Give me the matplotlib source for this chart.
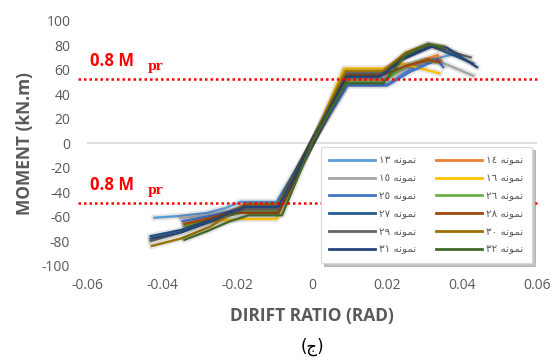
import matplotlib

matplotlib.use("Agg")
import matplotlib.pyplot as plt
import matplotlib.patheffects as pe
from matplotlib.lines import Line2D

TEXT_GREY = "#595959"
LIMIT_RED = "#FF0000"

# specimen labels (logical order, Arabic script)
LABELS = [
    "نمونه ١٣", "نمونه ١٤", "نمونه ١٥", "نمونه ١٦",
    "نمونه ٢٥", "نمونه ٢٦", "نمونه ٢٧", "نمونه ٢٨",
    "نمونه ٢٩", "نمونه ٣٠", "نمونه ٣١", "نمونه ٣٢",
]
COLORS = [
    "#5B9BD5", "#ED7D31", "#A5A5A5", "#FFC000",
    "#4472C4", "#70AD47", "#255E91", "#9E480E",
    "#636363", "#997300", "#264478", "#43682B",
]

# drift ratio (rad) / moment (kN.m) backbone points per specimen
drift_13 = [-0.042, -0.035, -0.028, -0.023, -0.019, -0.0095, 0, 0.0095, 0.020, 0.026, 0.032, 0.038]
moment_13 = [-61, -59.5, -57, -53, -48, -48, 0, 48, 48, 60, 68, 73]
drift_14 = [-0.034, -0.028, -0.022, -0.017, -0.009, 0, 0.0095, 0.019, 0.025, 0.0335, 0.0346]
moment_14 = [-65.6, -62, -57, -52, -52, 0, 52, 52, 63, 72, 65]
drift_15 = [-0.035, -0.028, -0.022, -0.017, -0.009, 0, 0.009, 0.019, 0.026, 0.033, 0.043]
moment_15 = [-61, -59, -56, -54, -54, 0, 53, 53, 62, 68, 55]
drift_16 = [-0.033, -0.027, -0.019, -0.0095, 0, 0.0085, 0.019, 0.024, 0.034]
moment_16 = [-67, -64, -62, -62, 0, 61, 61, 65, 57]
drift_25 = [-0.0345, -0.028, -0.022, -0.017, -0.009, 0, 0.0095, 0.020, 0.026, 0.031, 0.0335, 0.035]
moment_25 = [-63.7, -60, -56, -50, -50, 0, 47, 47, 58, 65, 68, 62]
drift_26 = [-0.034, -0.028, -0.022, -0.017, -0.009, 0, 0.009, 0.019, 0.025, 0.030, 0.033]
moment_26 = [-68, -63, -59, -56, -56, 0, 50, 50, 63, 68, 66]
drift_27 = [-0.043, -0.035, -0.027, -0.018, -0.009, 0, 0.009, 0.018, 0.024, 0.032, 0.043]
moment_27 = [-76, -71, -63, -53, -53, 0, 55, 55, 70, 79, 65]
drift_28 = [-0.034, -0.028, -0.022, -0.017, -0.009, 0, 0.0095, 0.019, 0.025, 0.031, 0.034]
moment_28 = [-66, -62, -57, -57, -57, 0, 56, 56, 63, 68, 66]
drift_29 = [-0.043, -0.035, -0.027, -0.018, -0.009, 0, 0.009, 0.019, 0.025, 0.031, 0.0423]
moment_29 = [-80, -73, -64, -54, -54, 0, 57, 57, 72, 80, 70]
drift_30 = [-0.0427, -0.035, -0.027, -0.018, -0.009, 0, 0.009, 0.019, 0.025, 0.031, 0.035]
moment_30 = [-84, -78, -68, -50, -50, 0, 59, 59, 74, 81, 79]
drift_31 = [-0.043, -0.035, -0.027, -0.018, -0.009, 0, 0.009, 0.018, 0.024, 0.032, 0.036, 0.044]
moment_31 = [-78, -73, -64, -52, -52, 0, 54, 54, 68, 79, 78, 62]
drift_32 = [-0.034, -0.028, -0.022, -0.017, -0.008, 0, 0.009, 0.019, 0.025, 0.031, 0.035]
moment_32 = [-79, -72, -64, -59, -59, 0, 49, 49, 72, 81, 78]

DRIFTS = [drift_13, drift_14, drift_15, drift_16, drift_25, drift_26,
          drift_27, drift_28, drift_29, drift_30, drift_31, drift_32]
MOMENTS = [moment_13, moment_14, moment_15, moment_16, moment_25, moment_26,
           moment_27, moment_28, moment_29, moment_30, moment_31, moment_32]

MPR_POS = 52
MPR_NEG = -49

X_TICKS = [-0.06, -0.04, -0.02, 0, 0.02, 0.04, 0.06]
Y_TICKS = [-100, -80, -60, -40, -20, 0, 20, 40, 60, 80, 100]

# minimal contextual shaping for the Arabic letters used here
ARABIC_FORMS = {
    # letter: (isolated, final, initial, medial)
    "ن": ("\ufee5", "\ufee6", "\ufee7", "\ufee8"),
    "م": ("\ufee1", "\ufee2", "\ufee3", "\ufee4"),
    "و": ("\ufeed", "\ufeee", None, None),
    "ه": ("\ufee9", "\ufeea", "\ufeeb", "\ufeec"),
    "ج": ("\u062c", "\ufe9e", "\ufe9f", "\ufea0"),
}


def shape_word(word: str) -> str:
    out = []
    for i, ch in enumerate(word):
        forms = ARABIC_FORMS.get(ch)
        if forms is None:
            out.append(ch)
            continue
        prev = word[i - 1] if i > 0 else None
        nxt = word[i + 1] if i + 1 < len(word) else None
        joins_prev = prev in ARABIC_FORMS and ARABIC_FORMS[prev][2] is not None
        joins_next = nxt in ARABIC_FORMS and forms[2] is not None
        if joins_prev and joins_next:
            out.append(forms[3])
        elif joins_prev:
            out.append(forms[1])
        elif joins_next:
            out.append(forms[2])
        else:
            out.append(forms[0])
    return "".join(reversed(out))


def rtl_label(text: str) -> str:
    word, num = text.split(" ")
    return num + " " + shape_word(word)


def tick_fmt(v: float) -> str:
    if v == 0:
        return "0"
    return f"{v:g}"


plt.rcParams["font.family"] = ["Open Sans", "DejaVu Sans"]

fig = plt.figure(figsize=(5.52, 3.6), dpi=100)
ax = fig.add_axes([0.1576, 0.2625, 0.8152, 0.68])

glow = [pe.Stroke(linewidth=4.5, foreground="black", alpha=0.10), pe.Normal()]
for xs, ys, color in zip(DRIFTS, MOMENTS, COLORS):
    ax.plot(xs, ys, color=color, linewidth=1.7, solid_joinstyle="round",
            path_effects=glow, zorder=3)

ax.axhline(0, color="#D9D9D9", linewidth=1.2, zorder=1)

# 0.8 Mpr limits, drawn a little past the plot edges
for level in (MPR_POS, MPR_NEG):
    ax.plot([-0.0625, 0.0605], [level, level], color=LIMIT_RED, linewidth=1.8,
            linestyle=(0, (1, 1.2)), clip_on=False, zorder=4)

for level, ty in ((MPR_POS, 67), (MPR_NEG, -34)):
    ax.text(-0.0593, ty, "0.8 M", color=LIMIT_RED, fontsize=12,
            fontweight="bold", va="center", ha="left", clip_on=False)
    ax.text(-0.0437, ty - 4.5, "pr", color=LIMIT_RED, fontsize=9,
            fontweight="bold", family="DejaVu Serif", va="center", ha="left",
            clip_on=False)

ax.set_xlim(-0.06, 0.06)
ax.set_ylim(-100, 100)
ax.set_xticks(X_TICKS)
ax.set_xticklabels([tick_fmt(v) for v in X_TICKS])
ax.set_yticks(Y_TICKS)
ax.set_yticklabels([tick_fmt(v) for v in Y_TICKS])
ax.tick_params(axis="both", length=0, labelsize=10, colors=TEXT_GREY)
ax.tick_params(axis="x", pad=9)
ax.tick_params(axis="y", pad=12)
for spine in ax.spines.values():
    spine.set_visible(False)

ax.set_xlabel("DIRIFT RATIO (RAD)", fontsize=12.5, fontweight="bold",
              color=TEXT_GREY, labelpad=10)
ax.set_ylabel("MOMENT (kN.m)", fontsize=12.5, fontweight="bold",
              color=TEXT_GREY, labelpad=6)

# legend: two columns, filled row by row
handles = [Line2D([], [], color=c, linewidth=2.0) for c in COLORS]
order = list(range(0, 12, 2)) + list(range(1, 12, 2))
leg = ax.legend([handles[i] for i in order],
                [rtl_label(LABELS[i]) for i in order],
                ncol=2, mode="expand",
                bbox_to_anchor=(0.508, -0.01, 0.492, 0.492), loc="lower left",
                prop={"family": "DejaVu Sans", "size": 7.5},
                handlelength=4.4, handletextpad=0.4, labelspacing=0.75,
                borderpad=0.8, columnspacing=1.0, frameon=True,
                fancybox=False, shadow={"ox": 2, "oy": -2, "color": "0.55", "alpha": 0.5})
leg.get_frame().set_edgecolor("#D9D9D9")
leg.get_frame().set_linewidth(0.8)
leg.set_zorder(5)
for txt in leg.get_texts():
    txt.set_color(TEXT_GREY)

fig.text(312 / 552, 1 - 347 / 360, "(" + shape_word("ج") + ")",
         family="DejaVu Sans", fontsize=12, ha="center", va="center",
         color="black")

fig.savefig("out.png", dpi=100)
